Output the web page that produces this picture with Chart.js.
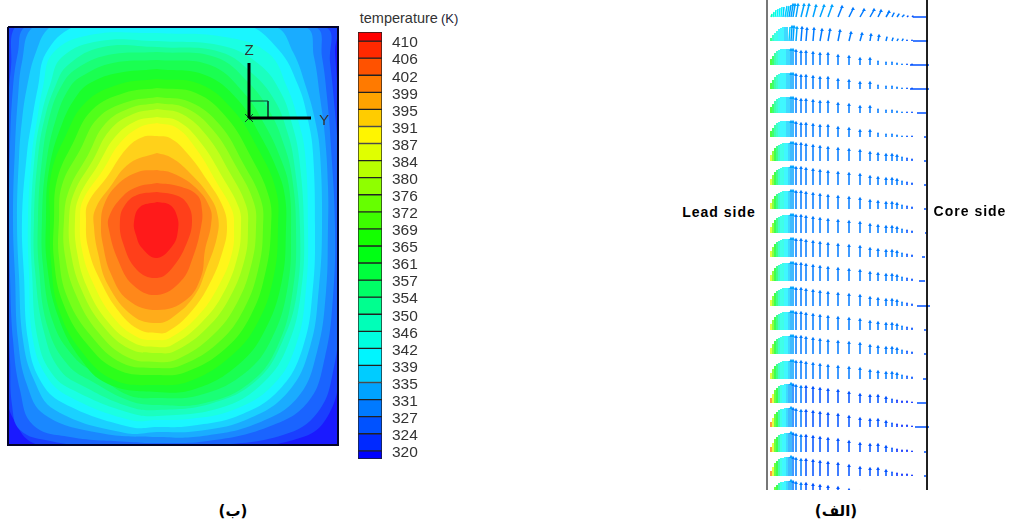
<!DOCTYPE html>
<html>
<head>
<meta charset="utf-8">
<title>temperature and velocity</title>
<script src="https://cdn.jsdelivr.net/npm/chart.js@4"></script>
<style>
body { margin: 0; background: #fff; width: 1009px; height: 522px; overflow: hidden; position: relative; font-family: "Liberation Sans", sans-serif; }
canvas { position: absolute; }
.txt { position: absolute; white-space: nowrap; transform: translate(-50%, -50%); color: #000; }
.axis { font-size: 15px; color: #333; }
.side { font-size: 14px; font-weight: bold; letter-spacing: 1px; }
.fa { font-family: "DejaVu Sans", sans-serif; font-size: 15px; font-weight: bold; direction: rtl; }
</style>
</head>
<body>
<canvas id="contour" width="338" height="426" style="left:4px;top:23px"></canvas>
<canvas id="scale" width="110" height="440" style="left:350px;top:26px"></canvas>
<canvas id="vectors" width="180" height="490" style="left:760px;top:0"></canvas>
<span class="txt axis" style="left:249px;top:49px">Z</span>
<span class="txt axis" style="left:324px;top:119px">Y</span>
<span class="txt" style="left:409px;top:18px;font-size:14.5px;color:#333">temperature<span style="font-size:13px;color:#223;margin-left:3px">(K)</span></span>
<span class="txt side" style="left:719px;top:212px">Lead side</span>
<span class="txt side" style="left:970px;top:211px">Core side</span>
<span class="txt fa" style="left:233px;top:511px">(ب)</span>
<span class="txt fa" style="left:836px;top:511px">(الف)</span>
<script>
// temperature levels of the legend
const levels = [410, 406.25, 402.5, 398.75, 395, 391.25, 387.5, 383.75, 380, 376.25, 372.5, 368.75, 365, 361.25, 357.5, 353.75, 350, 346.25, 342.5, 338.75, 335, 331.25, 327.5, 323.75, 320];
const tickLabels = ['410', '406', '402', '399', '395', '391', '387', '384', '380', '376', '372', '369', '365', '361', '357', '354', '350', '346', '342', '339', '335', '331', '327', '324', '320'];
const bandColors = ['#ff0000', '#ff2900', '#ff5200', '#ff7a00', '#ffa300', '#ffcc00', '#fff500', '#e0ff00', '#b8ff00', '#8fff00', '#66ff00', '#3dff00', '#14ff00', '#00ff14', '#00ff3d', '#00ff66', '#00ff8f', '#00ffb8', '#00ffe0', '#00f5ff', '#00ccff', '#00a3ff', '#007aff', '#0052ff', '#0029ff', '#0000ff'];

// contour lines, [y, depth from the top edge]
const ring410 = [[149,175],[162,178],[169,189],[170,203],[165,218],[149,231],[134,221],[128,208],[126,195],[132,180]];
const ring406 = [[149,165],[170,169],[180,178],[184,193],[180,213],[165,240],[149,251],[129,243],[115,216],[112,193],[117,178],[129,168]];
const ring402 = [[149,156],[170,159],[189,168],[194,183],[193,200],[185,230],[173,254],[149,268],[125,258],[110,233],[101,203],[101,190],[114,170],[129,160]];
const ring399 = [[149,143],[164,146],[187,160],[202,181],[203,198],[197,223],[193,250],[178,273],[149,283],[120,273],[103,247],[95,218],[93,198],[96,178],[109,158],[130,145]];
const ring395 = [[149,126],[162,130],[179,143],[202,170],[210,190],[209,210],[199,240],[187,268],[165,290],[149,296],[125,289],[100,258],[90,226],[86,200],[87,183],[102,160],[122,136]];
const ring391 = [[149,109],[162,111],[179,126],[199,153],[215,180],[219,200],[215,223],[202,256],[182,286],[159,305],[149,306],[132,303],[112,286],[92,253],[80,220],[78,193],[80,176],[99,150],[119,121],[135,110]];
const ring387 = [[149,96],[169,101],[189,123],[209,156],[224,183],[226,200],[224,226],[210,260],[189,290],[162,311],[149,313],[129,310],[105,290],[85,256],[74,223],[72,193],[75,173],[95,143],[112,116],[132,100]];
const ring384 = [[149,90],[170,94],[193,116],[215,151],[231,181],[233,200],[230,228],[216,265],[194,295],[164,318],[149,320],[126,316],[100,295],[79,260],[69,225],[67,193],[71,170],[90,138],[107,110],[128,94]];
const ring380 = [[149,82],[174,87],[199,109],[222,146],[238,178],[240,201],[237,231],[222,270],[199,301],[167,324],[149,326],[122,322],[95,299],[74,264],[63,227],[61,193],[66,166],[85,133],[102,103],[125,87]];
const ring376 = [[149,76],[178,81],[205,103],[229,141],[246,176],[248,201],[244,235],[229,276],[205,308],[170,332],[149,335],[119,330],[90,305],[68,268],[57,229],[56,193],[61,163],[80,128],[97,97],[122,81]];
const ring372 = [[149,70],[182,75],[212,98],[235,136],[253,173],[255,201],[251,239],[236,282],[211,315],[174,338],[149,341],[114,336],[84,310],[60,272],[51,231],[51,193],[54,158],[72,123],[90,91],[119,75]];
const ring369 = [[149,61],[188,66],[219,91],[242,128],[261,170],[263,201],[258,243],[243,288],[217,322],[178,345],[149,348],[110,343],[79,317],[55,276],[46,233],[46,193],[49,153],[65,116],[84,83],[116,66]];
const ring365 = [[149,52],[192,57],[225,83],[249,120],[268,163],[270,201],[266,248],[250,295],[223,329],[182,354],[149,358],[106,353],[74,325],[51,283],[43,235],[42,193],[43,148],[58,108],[78,75],[112,57]];
const ring361 = [[149,42],[197,48],[230,73],[252,108],[270,145],[277,170],[278,201],[274,253],[257,303],[230,338],[187,362],[149,365],[100,357],[72,331],[50,289],[39,237],[38,193],[41,143],[54,97],[70,67],[84,55],[110,46]];
const ring357 = [[149,33],[202,38],[235,65],[258,100],[274,135],[281,160],[283,201],[280,258],[264,311],[237,346],[192,368],[149,371],[120,368],[90,348],[66,330],[45,295],[35,239],[34,193],[38,138],[48,92],[62,60],[76,48],[105,36]];
const ring354 = [[149,25],[207,30],[240,55],[262,85],[276,118],[284,150],[288,201],[285,262],[270,318],[243,355],[197,376],[149,378],[122,374],[85,355],[60,338],[40,301],[31,241],[30,193],[34,133],[42,88],[54,58],[68,42],[100,28]];
const ring350 = [[149,20],[212,25],[246,48],[267,74],[279,104],[286,135],[292,201],[289,265],[275,313],[250,352],[205,376],[149,383],[122,380],[77,360],[52,343],[36,305],[27,243],[26,193],[30,130],[37,90],[47,60],[60,38],[95,20]];
const ring346 = [[149,14],[215,19],[252,38],[273,66],[284,97],[291,130],[296,201],[293,265],[280,318],[256,355],[215,380],[149,389],[122,386],[69,365],[45,348],[30,313],[24,245],[23,193],[27,126],[33,90],[42,58],[54,30],[92,14]];
const ring342 = [[149,6],[217,10],[260,26],[279,60],[290,93],[297,126],[300,201],[298,262],[288,318],[265,358],[225,383],[180,392],[149,393],[122,393],[62,370],[39,350],[25,313],[21,247],[20,193],[24,126],[29,93],[35,60],[45,26],[82,8]];
const ring339 = [[149,-6],[235,-3],[270,22],[290,58],[300,93],[305,126],[307,201],[305,260],[295,320],[272,362],[232,388],[182,399],[149,400],[122,400],[55,376],[32,353],[20,313],[16,249],[14,193],[19,126],[24,93],[30,60],[38,26],[65,0],[100,-5]];
const ring335 = [[149,-15],[267,0],[285,25],[298,60],[307,93],[312,126],[314,201],[311,260],[302,320],[280,365],[240,392],[190,404],[149,405],[117,406],[47,383],[26,353],[15,313],[11,249],[9,193],[11,130],[14,93],[19,60],[28,25],[42,0],[70,-10]];
const ring331 = [[149,-20],[297,0],[306,30],[312,70],[317,110],[320,160],[320,201],[318,265],[309,325],[290,370],[250,396],[195,409],[149,410],[92,406],[37,388],[19,358],[10,313],[7,249],[5,193],[7,120],[10,70],[14,35],[25,0],[70,-15]];
const ring327 = [[149,-25],[307,0],[314,30],[319,70],[323,120],[327,200],[325,270],[317,330],[300,375],[260,400],[200,414],[149,416],[122,415],[62,410],[25,398],[12,363],[5,313],[2,249],[1,193],[2,120],[5,60],[10,25],[17,0],[70,-20]];
const ring324 = [[149,-30],[317,0],[322,35],[327,85],[332,150],[334,201],[332,280],[326,340],[310,385],[275,408],[200,419],[149,422],[92,420],[42,414],[12,403],[4,378],[2,333],[-2,249],[-3,193],[-2,100],[3,40],[7,0],[70,-25]];
const ring320 = [[149,-35],[326,-5],[327,25],[331,80],[338,200],[336,280],[332,340],[322,385],[295,410],[200,425],[149,430],[70,425],[25,416],[7,395],[-1,370],[-5,200],[-3,80],[1,20],[3,-3],[70,-30]];
const rings = [ring410, ring406, ring402, ring399, ring395, ring391, ring387, ring384, ring380, ring376, ring372, ring369, ring365, ring361, ring357, ring354, ring350, ring346, ring342, ring339, ring335, ring331, ring327, ring324, ring320];

// coordinate triad inside the contour panel
const panelEdge = [[0,0],[330,0],[330,418],[0,418],[0,0]];
const triadZ = [[241,36],[241,91]];
const triadY = [[241,91],[303,91]];
const triadBox = [[241,74],[260,74],[260,91]];
const triadX1 = [[237,87],[245,95]];
const triadX2 = [[237,95],[245,87]];

// velocity vectors: stations from the lead wall, rows from the top
const stations = [4,6,8,10,12,14,16,18,20,22,24,26,29,34,39,46,53,61,71,82,93,103,111,119,125,130,135,140,145];
const rowBase = [17,41,65,89,113,137,161,185,209,233,257,281,306,330,354,379,403,427,452,476,500];
const rowProfile = [0,1,2,2,2,2,3,3,3,3,3,3,3,3,3,3,4,4,4,4,4];
const rise0 = [3,5,7,8,9,10,10,11,11,12,12,12,12,12,12,11,11,11,10,8,7,7,6,5,4,3,2,1,1];
const rise1 = [3,6,8,10,12,13,14,14,14,14,14,14,13,13,12,12,11,11,10,8,7,6,5,4,3,2,2,1,1];
const rise2 = [6,9,12,14,15,16,16,16,16,16,15,15,14,13,13,12,11,11,9,8,6,6,4,3,3,2,1,1,1];
const rise3 = [6,10,13,15,16,17,18,18,18,18,18,18,17,17,16,15,14,13,12,11,10,8,7,6,6,5,4,3,2];
const rise4 = [5,9,13,15,17,18,18,19,19,19,19,18,17,16,16,15,14,13,12,10,8,7,7,5,4,3,2,2,1];
const riseTable = [rise0, rise1, rise2, rise3, rise4];
const lean0 = [1,1,1,1,1,1,1,2,2,2,2,2,2,3,3,3,4,4,4,4,4,4,3,3,2,2,2,1,1];
const lean1 = [0,0,0,0,0,0,0,0,0,1,1,1,1,1,1,1,2,2,2,2,2,1,1,1,1,1,1,0,0];
const leanNone = [0,0,0,0,0,0,0,0,0,0,0,0,0,0,0,0,0,0,0,0,0,0,0,0,0,0,0,0,0];
const leanTable = [lean0, lean1, leanNone, leanNone, leanNone];
const speed0 = [17,18,18,19,19,19,20,20,20,21,21,21,21,21,21,21,21,21,22,22,22,22,22,22,22,22,22,23,23];
const speed1 = [15,17,18,18,19,19,19,20,20,20,21,21,21,22,22,22,22,22,22,22,22,22,22,22,22,22,22,23,23];
const speed2 = [12,14,16,17,18,19,19,19,20,20,21,21,22,22,22,22,22,22,22,22,22,22,22,22,22,22,22,23,23];
const speed3 = [7,10,13,15,17,18,18,19,19,20,21,21,22,22,22,22,22,22,22,22,22,22,22,22,22,22,22,23,23];
const speed4 = [3,7,11,13,16,18,19,19,20,21,21,22,22,22,23,23,23,23,23,23,23,23,23,23,23,24,24,24,24];
const speedTable = [speed0, speed1, speed2, speed3, speed4];
const stubFrom = [146,146,143,143,150,157,157,157,157,158,155,152,150,157,157,156,150,148,157,157,157];
const stubTo = [159,161,162,162,159,159,159,159,159,159,158,158,163,159,159,159,159,162,159,159,159];
const wallLead = [[0,0],[0,490]];
const wallCore = [[160,0],[160,490]];

const toPoints = pts => pts.map(p => ({x: p[0], y: p[1]}));

// the contour bands look a little paler than the legend
function pale(hex) {
    const n = parseInt(hex.slice(1), 16);
    const ch = v => Math.round(26 + v * 229 / 255);
    return `rgb(${ch(n >> 16)}, ${ch((n >> 8) & 255)}, ${ch(n & 255)})`;
}

function lineSet(pts, color, width, clip) {
    return {data: toPoints(pts), showLine: true, fill: false, borderColor: color, borderWidth: width, pointRadius: 0, clip: clip};
}

const contourSets = [
    lineSet(triadZ, '#000', 3),
    lineSet(triadY, '#000', 3),
    lineSet(triadBox, '#143', 1),
    lineSet(triadX1, '#143', 1),
    lineSet(triadX2, '#143', 1),
    lineSet(panelEdge, '#05052a', 2, false)
];
rings.forEach((ring, i) => {
    contourSets.push({
        data: toPoints(ring.concat([ring[0]])),
        showLine: true,
        fill: 'shape',
        backgroundColor: pale(bandColors[i]),
        borderWidth: 0,
        tension: 0.42,
        pointRadius: 0
    });
});
contourSets.push({data: toPoints(panelEdge), showLine: true, fill: 'shape', backgroundColor: pale(bandColors[25]), borderWidth: 0, pointRadius: 0});

new Chart(document.getElementById('contour'), {
    type: 'scatter',
    data: {datasets: contourSets},
    options: {
        responsive: false,
        animation: false,
        events: [],
        layout: {padding: 4},
        plugins: {legend: {display: false}, tooltip: {enabled: false}},
        scales: {
            x: {type: 'linear', display: false, min: 0, max: 330},
            y: {type: 'linear', display: false, min: 0, max: 418, reverse: true}
        }
    }
});

// legend colour bar
const edges = [412].concat(levels, [318.2]);
new Chart(document.getElementById('scale'), {
    type: 'bar',
    data: {
        labels: ['temperature'],
        datasets: bandColors.map((c, i) => ({
            data: [[edges[i + 1], edges[i]]],
            backgroundColor: c,
            borderColor: '#222',
            borderWidth: 1,
            borderSkipped: false,
            barPercentage: 1,
            categoryPercentage: 1,
            grouped: false
        }))
    },
    options: {
        responsive: false,
        animation: false,
        events: [],
        layout: {padding: {left: 8, top: 6, bottom: 7}},
        plugins: {legend: {display: false}, tooltip: {enabled: false}},
        scales: {
            x: {display: false},
            y: {
                position: 'right',
                min: 318.2,
                max: 412,
                grid: {display: false},
                border: {display: false},
                afterFit: s => { s.width = 78; s.paddingTop = 0; s.paddingBottom = 0; },
                afterBuildTicks: s => { s.ticks = levels.map(v => ({value: v})); },
                ticks: {
                    autoSkip: false,
                    padding: 2,
                    labelOffset: 2,
                    color: '#333',
                    font: {family: 'Liberation Sans', size: 15.5},
                    callback: (v, i) => tickLabels[i]
                }
            }
        }
    }
});

// one dataset for each colour, arrows split by empty points
const arrows = {};
rowBase.forEach((base, r) => {
    const p = rowProfile[r];
    stations.forEach((x, s) => {
        const k = speedTable[p][s];
        const rise = riseTable[p][s];
        // the dense arrows next to the wall show no heads
        const head = s < 10 ? 0 : (rise > 4 ? 2.2 : 1);
        arrows[k] = arrows[k] || [];
        arrows[k].push({x: x, y: base}, {x: x + leanTable[p][s], y: base - rise, head: head}, {x: NaN, y: NaN});
    });
    arrows[23] = arrows[23] || [];
    arrows[23].push({x: stubFrom[r], y: base}, {x: stubTo[r], y: base}, {x: NaN, y: NaN});
});

const vectorSets = [
    lineSet(wallLead, '#777', 2, false),
    lineSet(wallCore, '#000', 1, false)
];
Object.keys(arrows).forEach(k => {
    vectorSets.push({
        data: arrows[k],
        showLine: true,
        spanGaps: false,
        fill: false,
        borderColor: bandColors[k],
        borderWidth: 1.5,
        pointStyle: 'triangle',
        pointBackgroundColor: bandColors[k],
        pointBorderWidth: 0,
        pointRadius: c => (c.raw && c.raw.head ? c.raw.head : 0),
        clip: {left: 0, top: 0, right: 6, bottom: 0}
    });
});

new Chart(document.getElementById('vectors'), {
    type: 'scatter',
    data: {datasets: vectorSets},
    options: {
        responsive: false,
        animation: false,
        events: [],
        layout: {padding: {left: 7, right: 13}},
        plugins: {legend: {display: false}, tooltip: {enabled: false}},
        scales: {
            x: {type: 'linear', display: false, min: 0, max: 160},
            y: {type: 'linear', display: false, min: 0, max: 490, reverse: true}
        }
    }
});
</script>
</body>
</html>
